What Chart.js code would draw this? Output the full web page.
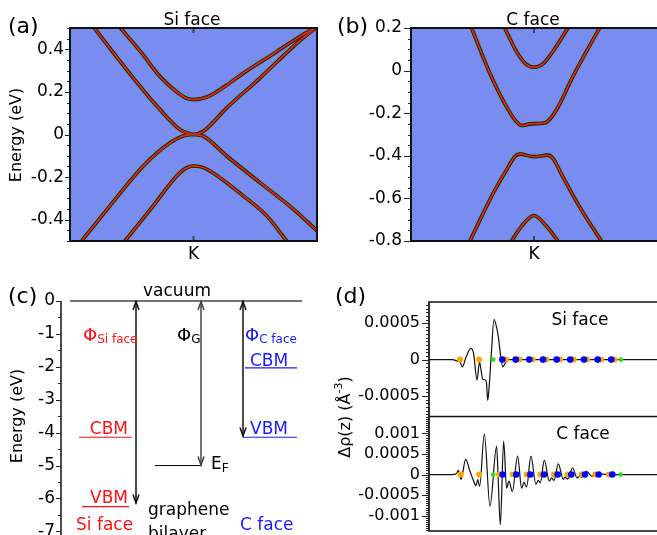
<!DOCTYPE html>
<html lang="en">
<head>
<meta charset="utf-8">
<title>Bilayer graphene on SiC</title>
<script src="https://cdn.jsdelivr.net/npm/chart.js@4.4.1/dist/chart.umd.min.js"></script>
<style>
  html, body { margin: 0; padding: 0; background: #fff; }
  body { position: relative; width: 657px; height: 535px; overflow: hidden; }
  .panel { position: absolute; }
</style>
</head>
<body>
<div class="panel" style="left:0;top:0;width:330px;height:270px"><canvas id="panelA"></canvas></div>
<div class="panel" style="left:330px;top:0;width:327px;height:270px"><canvas id="panelB"></canvas></div>
<div class="panel" style="left:0;top:270px;width:330px;height:265px"><canvas id="panelC"></canvas></div>
<div class="panel" style="left:330px;top:270px;width:327px;height:265px"><canvas id="panelD"></canvas></div>
<script>
"use strict";

const $ = (id) => document.getElementById(id);
const SANS = '"DejaVu Sans", "Liberation Sans", sans-serif';
Chart.defaults.font.family = SANS;
Chart.defaults.color = "#000";

// (a) Si face bands around K, [k, E (eV)], K at k = 0
const siCond1 = [[-0.811, 0.506], [-0.541, 0.304], [-0.271, 0.117], [-0.109, 0.023], [-0.028, 0.003], [0, 0],
  [0.08, 0.015], [0.269, 0.125], [0.538, 0.265], [0.808, 0.413], [1.0, 0.506]];
const siCond2 = [[-0.6, 0.506], [-0.43, 0.39], [-0.271, 0.272], [-0.136, 0.2], [-0.06, 0.171], [0, 0.164],
  [0.06, 0.168], [0.134, 0.182], [0.269, 0.232], [0.403, 0.288], [0.674, 0.389], [0.862, 0.46], [1.0, 0.506]];
const siVal1 = [[-0.905, -0.5], [-0.676, -0.335], [-0.406, -0.148], [-0.19, -0.039], [-0.055, -0.002], [0, 0],
  [0.08, -0.008], [0.269, -0.101], [0.538, -0.226], [0.808, -0.35], [1.0, -0.452]];
const siVal2 = [[-0.555, -0.5], [-0.326, -0.335], [-0.136, -0.195], [-0.06, -0.158], [0, -0.148],
  [0.06, -0.152], [0.134, -0.171], [0.403, -0.288], [0.593, -0.382], [0.755, -0.5]];
const siTicks = [-0.4, -0.2, 0, 0.2, 0.4];
const siTickLabels = ["-0.4", "-0.2", "0", "0.2", "0.4"];

// (b) C face bands around K
const cCond1 = [[-0.238, 0.2], [-0.143, 0.09], [-0.065, 0.03], [0, 0.016], [0.07, 0.03], [0.154, 0.09], [0.276, 0.2]];
const cCond2 = [[-0.508, 0.2], [-0.359, -0.012], [-0.224, -0.169], [-0.15, -0.235], [-0.1, -0.258], [-0.03, -0.25],
  [0.05, -0.248], [0.1, -0.243], [0.182, -0.185], [0.316, -0.028], [0.533, 0.2]];
const cVal1 = [[-0.521, -0.8], [-0.44, -0.702], [-0.333, -0.577], [-0.224, -0.467], [-0.157, -0.404], [-0.116, -0.392],
  [0, -0.404], [0.114, -0.397], [0.154, -0.412], [0.235, -0.499], [0.371, -0.64], [0.547, -0.8]];
const cVal2 = [[-0.183, -0.8], [-0.1, -0.73], [0, -0.68], [0.1, -0.73], [0.195, -0.8]];
const cTicks = [-0.8, -0.6, -0.4, -0.2, 0, 0.2];
const cTickLabels = ["-0.8", "-0.6", "-0.4", "-0.2", "0", "0.2"];

// (c) energy levels (eV) and work-function arrows
const levelNames = ["vacuum", "Si CBM", "Si VBM", "E_F", "C CBM", "C VBM"];
const levelEnergies = [0, -4.14, -6.25, -5.0, -2.03, -4.14];
const arrowNames = ["Phi Si face", "Phi G", "Phi C face"];
const arrowEnds = [-6.15, -5.0, -4.12];
const diagTicks = [-7, -6, -5, -4, -3, -2, -1, 0];
const diagTickLabels = ["-7", "-6", "-5", "-4", "-3", "-2", "-1", "0"];

// (d) charge density difference, [z, drho]
const siRho = [[0, 0], [4.4, 0], [5.2, -0.00002], [5.7, -0.00003], [6.15, -0.0001], [6.8, 0.00003], [7.7, 0.000155],
  [8.2, 0.00009], [8.85, -0.00028], [9.3, -0.00003], [9.6, -0.00015], [9.9, -0.00027], [10.4, -0.00028],
  [10.6, -0.00033], [10.82, -0.00056], [11.1, -0.00035], [11.5, 0.0001], [11.97, 0.00055], [12.3, 0.00049],
  [12.8, 0.0003], [13.2, 0.00005], [13.6, -0.0001], [14.1, -0.00004], [14.6, 0], [42, 0]];
const cRho = [[0, 0], [4.17, 0], [5.03, 0.00002], [5.4, 0.0001], [5.65, 0], [5.89, -0.00012], [6.2, 0.00004],
  [6.75, 0.00037], [7.55, 0.00008], [8.17, -0.00014], [8.66, -0.00027], [8.96, -0.00012], [9.33, -0.00028],
  [10.19, 0.00099], [11.23, -0.00077], [12.46, 0.00069], [12.77, -0.0002], [13.14, -0.00122], [13.75, 0.00081],
  [14.3, -0.00033], [14.73, -0.00016], [15.35, -0.00041], [16.33, 0.00045], [17.06, -0.00033], [17.49, -0.00019],
  [17.98, -0.0003], [18.78, 0.00045], [19.7, -0.00024], [20.13, -0.00014], [20.5, -0.0002], [21.24, 0.00035],
  [22.16, -0.00016], [22.6, -0.00008], [23.02, -0.00014], [23.82, 0.00026], [24.74, -0.00012], [25.05, -0.00006],
  [25.54, -0.00011], [26.46, 0.00016], [27.26, -0.00008], [27.82, -0.00004], [28.12, -0.00007], [29.04, 0.00008],
  [29.96, -0.00004], [30.69, -0.00002], [31.49, 0.00002], [32.72, 0], [42, 0]];
const siOrange = [5.71, 9.21, 14.18, 16.63, 19.1, 21.6, 24.13, 26.65, 29.15, 31.68, 34.2];
const siBlue = [13.5, 15.97, 18.47, 21.0, 23.52, 26.02, 28.55, 31.07, 33.57];
const siGreen = [11.84, 35.36];
const cOrange = [5.84, 9.26, 12.89, 15.41, 17.99, 20.5, 23.02, 25.54, 28.12, 30.63, 33.15];
const cBlue = [13.57, 16.08, 18.66, 21.18, 23.7, 26.21, 28.73, 31.25, 33.76];
const cGreen = [11.84, 35.3];
const rhoTopTicks = [-0.0005, 0, 0.0005];
const rhoTopTickLabels = ["-0.0005", "0", "0.0005"];
const rhoBotTicks = [-0.001, -0.0005, 0, 0.0005, 0.001];
const rhoBotTickLabels = ["-0.001", "-0.0005", "0", "0.0005", "0.001"];

const RED = "#ff1010";
const BLUE = "#1a1aff";
const PLOT_BG = "#798cf0";

function drawText(ctx, t) {
  ctx.save();
  ctx.fillStyle = t.color || "#000";
  ctx.translate(t.x, t.y);
  if (t.rot) ctx.rotate(t.rot);
  const parts = t.parts || [{ s: t.text, size: t.size || 17 }];
  let total = 0;
  const widths = parts.map((p) => {
    ctx.font = `${p.size}px ${SANS}`;
    const w = ctx.measureText(p.s).width;
    total += w;
    return w;
  });
  let x = t.align === "center" ? -total / 2 : t.align === "right" ? -total : 0;
  ctx.textAlign = "left";
  ctx.textBaseline = t.baseline || "alphabetic";
  parts.forEach((p, i) => {
    ctx.font = `${p.size}px ${SANS}`;
    ctx.fillText(p.s, x, p.dy || 0);
    x += widths[i];
  });
  ctx.restore();
}

function line(ctx, x0, y0, x1, y1) {
  ctx.beginPath();
  ctx.moveTo(x0, y0);
  ctx.lineTo(x1, y1);
  ctx.stroke();
}

// major ticks from the scale, minor ticks every `step`, both outside the left axis
function yTickMarks(chart, id, step, majorLen, minorLen) {
  const s = chart.scales[id];
  const ctx = chart.ctx;
  const x = s.right;
  ctx.save();
  ctx.strokeStyle = "#222";
  ctx.lineWidth = 1;
  ctx.beginPath();
  for (const t of s.ticks) {
    const y = Math.round(s.getPixelForValue(t.value)) + 0.5;
    ctx.moveTo(x - majorLen, y);
    ctx.lineTo(x, y);
  }
  for (let i = Math.ceil(s.min / step - 1e-6); i * step <= s.max + step * 1e-6; i++) {
    const y = Math.round(s.getPixelForValue(i * step)) + 0.5;
    ctx.moveTo(x - minorLen, y);
    ctx.lineTo(x, y);
  }
  ctx.stroke();
  ctx.restore();
}

function decor(ox, oy, texts, under, over) {
  return {
    id: "decor",
    beforeDatasetsDraw(chart) { if (under) under(chart); },
    afterDatasetsDraw(chart) { if (over) over(chart); },
    afterDraw(chart) {
      const ctx = chart.ctx;
      ctx.save();
      ctx.translate(-ox, -oy);
      texts.forEach((t) => drawText(ctx, t));
      ctx.restore();
    },
  };
}

function yAxis(min, max, vals, labels, width, pad, size) {
  return {
    type: "linear", min, max, position: "left",
    afterBuildTicks: (s) => { s.ticks = vals.map((v) => ({ value: v })); },
    // fixed width; labels at the ends may overhang the plot
    afterFit: (s) => { s.width = width; s.paddingTop = 0; s.paddingBottom = 0; },
    grid: { display: false, drawTicks: false },
    border: { display: false },
    ticks: { padding: pad, autoSkip: false, font: { size }, color: "#000", callback: (v, i) => labels[i] },
  };
}

const baseOpts = (padding) => ({
  animation: false, responsive: true, maintainAspectRatio: false, events: [],
  layout: { autoPadding: false, padding },
  plugins: { legend: { display: false }, tooltip: { enabled: false } },
});

function bandChart(id, cfg) {
  const datasets = [];
  for (const band of cfg.bands) {
    for (const [color, width, order] of [["rgba(70,180,150,0.5)", 5.5, 3], ["#2a0804", 3.6, 2], ["#c8301a", 2, 1]]) {
      datasets.push({
        data: band.map(([x, y]) => ({ x, y })),
        borderColor: color, borderWidth: width, order,
        pointRadius: 0, cubicInterpolationMode: "monotone", fill: false,
      });
    }
  }
  return new Chart($(id), {
    type: "line",
    data: { datasets },
    options: {
      ...baseOpts({ top: 28, right: cfg.padRight, left: 0, bottom: 0 }),
      scales: {
        x: {
          type: "linear", min: -1, max: 1,
          afterBuildTicks: (s) => { s.ticks = [{ value: 0 }]; },
          afterFit: (s) => { s.height = 29; },
          grid: { display: false, drawTicks: false },
          border: { display: false },
          ticks: { padding: 3, font: { size: 17 }, color: "#000", callback: () => "K" },
        },
        y: yAxis(cfg.yMin, cfg.yMax, cfg.ticks, cfg.tickLabels, cfg.axisWidth, cfg.tickPad, 17),
      },
    },
    plugins: [decor(cfg.ox, 0, cfg.texts,
      (chart) => {
        const a = chart.chartArea;
        chart.ctx.save();
        chart.ctx.fillStyle = PLOT_BG;
        chart.ctx.fillRect(a.left, a.top, a.right - a.left, a.bottom - a.top);
        chart.ctx.restore();
      },
      (chart) => {
        const a = chart.chartArea;
        const ctx = chart.ctx;
        const kx = chart.scales.x.getPixelForValue(0);
        ctx.save();
        ctx.strokeStyle = "#444";
        ctx.lineWidth = 2;
        line(ctx, kx, a.top, kx, a.top + 5);
        line(ctx, kx, a.bottom - 5, kx, a.bottom);
        ctx.strokeStyle = "#111";
        ctx.lineWidth = 2;
        ctx.beginPath();
        if (cfg.rightBorder) {
          ctx.rect(a.left, a.top, a.right - a.left, a.bottom - a.top);
        } else {
          ctx.moveTo(a.right + 2, a.top);
          ctx.lineTo(a.left, a.top);
          ctx.lineTo(a.left, a.bottom);
          ctx.lineTo(a.right + 2, a.bottom);
        }
        ctx.stroke();
        ctx.restore();
        yTickMarks(chart, "y", 0.05, cfg.tickLen, 3);
      })],
  });
}

bandChart("panelA", {
  bands: [siCond1, siCond2, siVal1, siVal2],
  yMin: -0.5, yMax: 0.5, ticks: siTicks, tickLabels: siTickLabels,
  axisWidth: 70, padRight: 13, tickPad: 6, tickLen: 5, rightBorder: true, ox: 0,
  texts: [
    { x: 8, y: 33, text: "(a)", size: 22 },
    { x: 192, y: 25, text: "Si face", size: 17, align: "center" },
    { x: 17, y: 135, text: "Energy (eV)", size: 16, align: "center", baseline: "middle", rot: -Math.PI / 2 },
  ],
});

bandChart("panelB", {
  bands: [cCond1, cCond2, cVal1, cVal2],
  yMin: -0.8, yMax: 0.2, ticks: cTicks, tickLabels: cTickLabels,
  axisWidth: 81, padRight: 0, tickPad: 9, tickLen: 7, rightBorder: false, ox: 330,
  texts: [
    { x: 337, y: 33, text: "(b)", size: 22 },
    { x: 533, y: 25, text: "C face", size: 17, align: "center" },
  ],
});

// (c) horizontal extent of each level and x of each arrow, in plot units 0..250
const levelStyle = [
  { x0: 9, x1: 241, color: "#444", width: 1.7 },
  { x0: 18, x1: 71, color: RED, width: 1.2 },
  { x0: 21, x1: 68, color: RED, width: 1.2 },
  { x0: 94, x1: 140, color: "#000", width: 1 },
  { x0: 184, x1: 236, color: BLUE, width: 1.2 },
  { x0: 182, x1: 236, color: BLUE, width: 1.2 },
];
const arrowStyle = [{ x: 75, color: "#111" }, { x: 140, color: "#444" }, { x: 182, color: "#111" }];

new Chart($("panelC"), {
  type: "line",
  data: {
    datasets: levelEnergies.map((e, i) => ({
      label: levelNames[i],
      data: [{ x: levelStyle[i].x0, y: e }, { x: levelStyle[i].x1, y: e }],
      borderColor: levelStyle[i].color, borderWidth: levelStyle[i].width,
      pointRadius: 0, clip: false,
    })),
  },
  options: {
    ...baseOpts({ top: 31, right: 19, left: 0, bottom: 0 }),
    scales: {
      x: { type: "linear", min: 0, max: 250, display: false },
      y: yAxis(-7.11, 0, diagTicks, diagTickLabels, 61, 6, 17),
    },
  },
  plugins: [decor(0, 270, [
    { x: 8, y: 303, text: "(c)", size: 22 },
    { x: 18, y: 416, text: "Energy (eV)", size: 16, align: "center", baseline: "middle", rot: -Math.PI / 2 },
    { x: 177, y: 296, text: "vacuum", size: 17, align: "center" },
    { x: 83, y: 341, color: RED, parts: [{ s: "Φ", size: 18 }, { s: "Si face", size: 12, dy: 2 }] },
    { x: 177, y: 341, parts: [{ s: "Φ", size: 18 }, { s: "G", size: 12, dy: 2 }] },
    { x: 245, y: 341, color: BLUE, parts: [{ s: "Φ", size: 18 }, { s: "C face", size: 12, dy: 2 }] },
    { x: 128, y: 434, text: "CBM", size: 17, color: RED, align: "right" },
    { x: 128, y: 503, text: "VBM", size: 17, color: RED, align: "right" },
    { x: 76, y: 530, text: "Si face", size: 17, color: RED },
    { x: 148, y: 515, text: "graphene", size: 17 },
    { x: 148, y: 539, text: "bilayer", size: 17 },
    { x: 240, y: 530, text: "C face", size: 17, color: BLUE },
    { x: 250, y: 366, text: "CBM", size: 17, color: BLUE },
    { x: 250, y: 434, text: "VBM", size: 17, color: BLUE },
    { x: 211, y: 469, parts: [{ s: "E", size: 17 }, { s: "F", size: 12, dy: 3 }] },
  ], null, (chart) => {
    const ctx = chart.ctx;
    const xs = chart.scales.x;
    const ys = chart.scales.y;
    ctx.save();
    ctx.strokeStyle = "#111";
    ctx.lineWidth = 1.5;
    line(ctx, ys.right, ys.getPixelForValue(0), ys.right, chart.height);
    ctx.restore();
    yTickMarks(chart, "y", 0.5, 5, 3);
    arrowEnds.forEach((end, i) => {
      const x = xs.getPixelForValue(arrowStyle[i].x);
      const y0 = ys.getPixelForValue(0);
      const y1 = ys.getPixelForValue(end);
      ctx.save();
      ctx.strokeStyle = arrowStyle[i].color;
      ctx.lineWidth = 1.5;
      line(ctx, x, y0, x, y1);
      ctx.beginPath();
      ctx.moveTo(x - 3, y0 + 9); ctx.lineTo(x, y0 + 0.5); ctx.lineTo(x + 3, y0 + 9);
      ctx.moveTo(x - 3, y1 - 9); ctx.lineTo(x, y1 - 0.5); ctx.lineTo(x + 3, y1 - 9);
      ctx.stroke();
      ctx.restore();
    });
  })],
});

const dots = (zs, axis, color, r, order) => ({
  data: zs.map((z) => ({ x: z, y: 0 })), yAxisID: axis, showLine: false,
  pointRadius: r, pointBackgroundColor: color, pointBorderWidth: 0, order,
});
const curve = (pts, axis) => ({
  data: pts.map(([x, y]) => ({ x, y })), yAxisID: axis,
  borderColor: "#111", borderWidth: 1.2, pointRadius: 0, cubicInterpolationMode: "monotone", order: 3,
});

// stacked scales are placed bottom-up in definition order: yBot first, yTop second
new Chart($("panelD"), {
  type: "line",
  data: {
    datasets: [
      dots(siBlue, "yTop", "#0000ff", 3.3, 0), dots(siOrange, "yTop", "#ffa500", 3, 1), dots(siGreen, "yTop", "#22e022", 2.3, 1),
      dots(cBlue, "yBot", "#0000ff", 3.3, 0), dots(cOrange, "yBot", "#ffa500", 3, 1), dots(cGreen, "yBot", "#22e022", 2.3, 1),
      curve(siRho, "yTop"), curve(cRho, "yBot"),
    ],
  },
  options: {
    ...baseOpts({ top: 32, right: 0, left: 0, bottom: 4 }),
    scales: {
      x: { type: "linear", min: 0, max: 42, display: false },
      yBot: { ...yAxis(-0.00137, 0.00141, rhoBotTicks, rhoBotTickLabels, 99, 9, 16), stack: "rho", stackWeight: 1 },
      yTop: { ...yAxis(-0.00078, 0.00079, rhoTopTicks, rhoTopTickLabels, 99, 9, 16), stack: "rho", stackWeight: 1 },
    },
  },
  plugins: [decor(330, 270, [
    { x: 335, y: 303, text: "(d)", size: 22 },
    { x: 580, y: 325, text: "Si face", size: 17, align: "center" },
    { x: 583, y: 439, text: "C face", size: 17, align: "center" },
    { x: 346, y: 417, rot: -Math.PI / 2, align: "center", baseline: "middle",
      parts: [{ s: "Δρ(z) (Å", size: 16 }, { s: "-3", size: 11, dy: -7 }, { s: ")", size: 16 }] },
  ], null, (chart) => {
    const ctx = chart.ctx;
    const a = chart.chartArea;
    const mid = Math.min(chart.scales.yTop.bottom, chart.scales.yBot.bottom);
    ctx.save();
    ctx.strokeStyle = "#111";
    ctx.lineWidth = 1.7;
    ctx.beginPath();
    ctx.moveTo(a.right + 2, a.top); ctx.lineTo(a.left, a.top); ctx.lineTo(a.left, a.bottom); ctx.lineTo(a.right + 2, a.bottom);
    ctx.moveTo(a.left, mid); ctx.lineTo(a.right + 2, mid);
    ctx.stroke();
    ctx.restore();
    yTickMarks(chart, "yTop", 0.00005, 7, 3);
    yTickMarks(chart, "yBot", 0.00005, 7, 3);
  })],
});
</script>
</body>
</html>
